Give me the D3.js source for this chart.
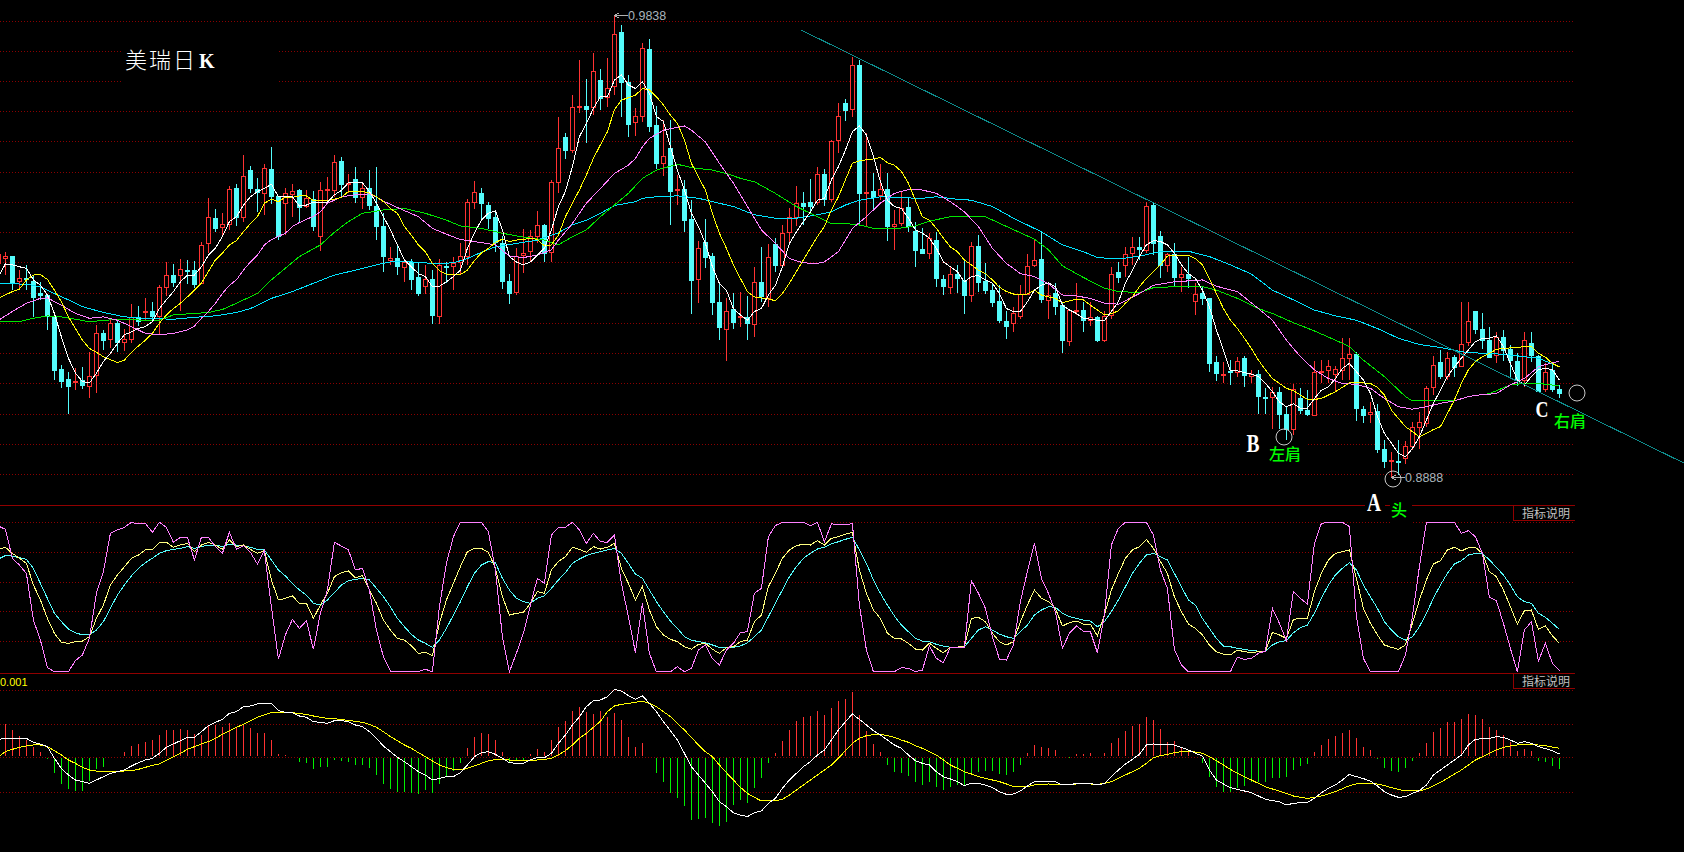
<!DOCTYPE html>
<html><head><meta charset="utf-8">
<script src="https://cdnjs.cloudflare.com/ajax/libs/d3/7.8.5/d3.min.js"></script>
<style>html,body{margin:0;padding:0;background:#000;overflow:hidden}svg{display:block}</style>
</head><body><div id="c"></div>
<script>
// Prices are in 1/10000 units (9838 = 0.9838). First entry sits just off the left edge.
const high=[9352,9352,9343,9314,9325,9304,9290,9263,9220,9119,
9105,9112,9114,9146,9201,9191,9211,9211,9194,9244,
9240,9256,9248,9283,9331,9326,9336,9335,9333,9371,
9462,9439,9431,9487,9491,9551,9528,9504,9532,9567,
9467,9484,9491,9482,9479,9476,9496,9506,9552,9546,
9512,9526,9493,9520,9526,9431,9361,9366,9335,9338,
9328,9325,9314,9338,9331,9342,9369,9460,9497,9484,
9454,9431,9384,9307,9360,9398,9397,9436,9410,9500,
9630,9596,9674,9747,9707,9760,9728,9750,9838,9819,
9716,9647,9782,9789,9652,9624,9624,9510,9500,9458,
9375,9419,9349,9287,9257,9268,9270,9261,9321,9361,
9367,9380,9407,9441,9487,9474,9501,9527,9522,9582,
9659,9666,9752,9747,9596,9513,9532,9513,9438,9476,
9462,9414,9400,9390,9393,9304,9321,9325,9335,9371,
9386,9329,9288,9283,9229,9239,9283,9347,9376,9395,
9287,9287,9249,9235,9287,9249,9249,9220,9229,9321,
9330,9362,9382,9382,9454,9453,9395,9349,9369,9321,
9342,9287,9280,9256,9137,9126,9129,9136,9137,9109,
9109,9071,9073,9074,9033,9079,9071,9067,9128,9130,
9129,9117,9175,9174,9146,9034,9043,9039,8964,8940,
8964,8962,9002,9023,9076,9137,9150,9146,9139,9248,
9248,9230,9225,9198,9186,9191,9160,9143,9187,9186,
9139,9122,9122,9077];
const low=[9325,9304,9273,9273,9273,9218,9253,9191,9089,9072,
9018,9067,9069,9052,9062,9150,9153,9146,9148,9165,
9199,9211,9208,9181,9261,9280,9229,9285,9277,9286,
9349,9393,9383,9397,9405,9414,9473,9434,9428,9450,
9377,9386,9424,9412,9441,9395,9354,9458,9465,9465,
9472,9453,9440,9438,9377,9311,9325,9304,9289,9273,
9261,9266,9203,9203,9287,9273,9304,9325,9440,9417,
9398,9352,9275,9244,9263,9309,9331,9369,9331,9331,
9472,9542,9555,9637,9576,9633,9644,9650,9674,9630,
9589,9590,9618,9599,9522,9508,9407,9448,9393,9224,
9247,9318,9222,9170,9128,9194,9198,9170,9177,9249,
9239,9311,9323,9369,9404,9406,9431,9448,9447,9455,
9556,9622,9630,9404,9405,9439,9458,9375,9356,9404,
9393,9321,9349,9338,9280,9262,9266,9268,9224,9249,
9270,9266,9238,9205,9172,9187,9213,9263,9321,9247,
9213,9222,9144,9159,9222,9187,9199,9167,9167,9213,
9287,9301,9325,9335,9349,9345,9297,9311,9281,9270,
9277,9222,9242,9105,9086,9081,9078,9095,9074,9081,
9019,9019,8988,8988,8964,8975,9019,9013,9013,9081,
9081,9064,9088,9088,9004,8999,9000,8937,8906,8888,
8893,8916,8944,8947,8992,9058,9091,9088,9095,9115,
9157,9183,9152,9135,9122,9128,9091,9076,9074,9126,
9064,9064,9064,9050];
const open=[9329,9340,9343,9292,9297,9292,9268,9263,9220,9111,
9090,9083,9088,9076,9099,9184,9172,9205,9167,9172,
9218,9228,9230,9220,9280,9305,9305,9314,9314,9287,
9369,9421,9402,9409,9484,9423,9520,9482,9473,9522,
9467,9452,9471,9479,9446,9460,9385,9479,9479,9538,
9491,9501,9465,9484,9446,9405,9335,9340,9321,9331,
9301,9282,9296,9220,9323,9323,9331,9343,9455,9472,
9449,9424,9369,9292,9270,9345,9354,9384,9407,9351,
9496,9588,9562,9649,9651,9649,9705,9670,9692,9804,
9701,9618,9632,9769,9613,9535,9565,9478,9482,9419,
9295,9373,9343,9248,9194,9234,9217,9218,9203,9289,
9257,9368,9325,9392,9423,9452,9454,9455,9511,9460,
9581,9659,9645,9736,9473,9476,9469,9482,9404,9412,
9443,9395,9357,9350,9377,9295,9280,9306,9294,9262,
9363,9292,9273,9251,9209,9206,9220,9265,9325,9337,
9253,9268,9242,9169,9232,9232,9211,9218,9170,9222,
9310,9325,9349,9362,9356,9448,9384,9325,9347,9301,
9306,9251,9268,9256,9125,9099,9106,9105,9134,9097,
9100,9053,9054,9063,9019,8988,9052,9026,9017,9104,
9109,9100,9109,9134,9141,9028,9019,9025,8946,8921,
8922,8927,8952,8992,8999,9074,9126,9097,9135,9117,
9167,9230,9193,9170,9139,9177,9151,9127,9087,9165,
9138,9070,9108,9069];
const close=[9347,9343,9290,9297,9295,9259,9263,9220,9109,9086,
9076,9086,9078,9097,9184,9170,9205,9167,9172,9218,
9210,9230,9220,9279,9305,9289,9316,9312,9285,9365,
9424,9401,9410,9482,9424,9508,9484,9474,9524,9467,
9384,9472,9476,9445,9462,9405,9480,9481,9536,9491,
9493,9465,9484,9448,9404,9343,9340,9323,9330,9296,
9268,9296,9222,9325,9321,9329,9343,9455,9474,9453,
9421,9371,9292,9268,9344,9349,9385,9406,9349,9495,
9565,9561,9650,9651,9646,9724,9668,9688,9801,9702,
9615,9631,9771,9611,9534,9549,9477,9482,9417,9294,
9359,9342,9249,9198,9231,9208,9220,9205,9289,9261,
9342,9325,9390,9423,9452,9447,9447,9511,9461,9579,
9632,9644,9736,9473,9475,9465,9482,9404,9410,9441,
9404,9356,9350,9380,9297,9282,9307,9297,9262,9363,
9290,9273,9249,9211,9200,9225,9265,9323,9334,9255,
9262,9240,9170,9232,9233,9211,9217,9170,9220,9307,
9299,9347,9361,9358,9447,9369,9325,9347,9301,9306,
9298,9266,9256,9124,9102,9101,9104,9128,9098,9101,
9055,9051,9063,9018,8987,9069,9026,9019,9104,9106,
9117,9111,9133,9141,9031,9016,9023,8947,8922,8923,
8920,8952,8992,9001,9071,9119,9096,9133,9114,9163,
9209,9193,9170,9136,9177,9150,9129,9087,9170,9139,
9066,9104,9070,9061];

const ma5=[9301,9327,9325,9321,9318,9294,9283,9263,9225,9177,9133,9102,9085,9082,9102,9126,9143,9163,9181,9187,9194,9198,9208,9235,9253,9270,9290,9304,9304,9321,9345,9359,9383,9414,9424,9448,9465,9476,9482,9491,9465,9465,9465,9446,9448,9454,9454,9454,9469,9478,9494,9494,9494,9476,9452,9424,9397,9366,9335,9321,9307,9301,9280,9281,9290,9301,9314,9359,9390,9417,9431,9436,9397,9342,9331,9325,9331,9345,9359,9397,9445,
9476,9527,9589,9616,9647,9671,9671,9705,9716,9695,9688,9702,9678,9630,9620,9568,9520,9479,9431,9404,9369,9321,9287,9273,9235,9222,9211,9229,9235,9263,9283,9321,9369,9393,9414,9434,9458,9462,9500,9527,9561,9599,9611,9592,9548,9496,9458,9445,9441,9421,9397,9390,9380,9359,9331,9321,9311,9290,9301,9303,9294,9287,9266,9235,9229,9229,9249,9273,9283,9288,9280,9242,9232,9225,9215,9213,9211,9210,9229,9249,
9287,9314,9342,9366,9375,9373,9366,9349,9325,9307,9297,9273,9239,9191,9150,9107,9107,9103,9100,9095,9081,9064,9043,9033,9039,9030,9030,9050,9067,9074,9091,9112,9122,9105,9088,9061,9013,8978,8958,8937,8930,8947,8971,9006,9040,9067,9095,9115,9133,9150,9167,9174,9174,9179,9157,9122,9088,9078,9095,9109,9112,9109,9088];
const ma10=[9256,9263,9270,9275,9294,9304,9305,9295,9273,9249,9218,9194,9170,9153,9145,9136,9130,9124,9129,9145,9158,9170,9184,9205,9222,9235,9246,9259,9273,9287,9311,9335,9349,9366,9375,9393,9410,9424,9452,9460,9455,9464,9464,9467,9467,9457,9458,9458,9460,9464,9476,9476,9476,9473,9465,9455,9441,9431,9404,9386,9366,9352,9328,9313,9306,9305,9305,9314,9334,9349,9359,9371,9378,9373,9376,9377,9380,9377,9364,9366,9386,
9424,9452,9479,9510,9544,9572,9599,9644,9664,9669,9674,9688,9685,9671,9654,9633,9616,9582,9534,9506,9479,9431,9390,9359,9325,9297,9270,9259,9257,9255,9251,9266,9287,9311,9335,9359,9383,9404,9438,9465,9500,9534,9539,9541,9543,9546,9535,9530,9517,9493,9458,9424,9417,9400,9380,9362,9352,9335,9325,9314,9307,9294,9279,9270,9265,9263,9265,9273,9263,9259,9256,9247,9251,9254,9253,9242,9232,9222,9225,9230,
9246,9259,9280,9297,9311,9325,9343,9345,9345,9345,9338,9325,9297,9266,9235,9211,9194,9174,9153,9129,9109,9091,9081,9071,9066,9057,9048,9048,9050,9057,9064,9073,9082,9082,9082,9081,9073,9057,9026,9009,8992,8982,8971,8978,8986,8992,9019,9047,9081,9109,9126,9136,9143,9151,9153,9154,9155,9157,9157,9143,9135,9122,9115];

const ma20Idx=[-1,1,3,5,6,8,10,12,14,16,18,20,22,24,26,27,28,29,30,31,32,33,34,35,36,37,38,40,41,42,44,45,46,47,48,50,52,53,54,56,59,61,63,65,67,70,72,74,76,78,79,81,83,85,87,89,90,91,92,94,97,98,100,102,104,106,108,110,112,114,116,117,119,120,121,123,125,127,129,131,133,135,137,139,141,143,145,147,149,151,153,155,157,159,162,164,167,171,173,176,179,181,183,185,187,189,191,193,195,197,199,201,203,205,207,209,211,213,215,217,219,221,222];
const ma20=[9211,9229,9246,9256,9257,9242,9225,9215,9218,9211,9198,9184,9181,9184,9191,9199,9215,9229,9246,9266,9283,9294,9314,9331,9345,9366,9377,9390,9404,9412,9425,9434,9452,9458,9465,9469,9471,9465,9456,9443,9424,9400,9388,9377,9373,9366,9343,9340,9345,9356,9376,9410,9452,9482,9513,9530,9544,9568,9585,9602,9611,9602,9578,9534,9493,9445,9397,9369,9338,9329,9328,9331,9352,9376,9400,9424,9452,9472,9480,9479,9472,9455,9434,9404,9359,9328,9307,9301,9286,9263,9261,9256,9246,9244,9266,9283,9290,9294,9281,9270,9235,9211,9170,9136,9109,9091,9081,9079,9071,9050,9033,9028,9033,9040,9045,9054,9058,9060,9078,9091,9115,9124,9126];
const ma60Idx=[-1,2,4,6,8,10,12,16,20,22,24,26,29,31,33,36,38,40,42,45,47,49,51,54,57,60,63,65,68,71,74,77,79,81,83,85,87,89,91,93,96,98,101,103,105,107,110,113,116,118,120,122,124,127,130,132,135,138,140,143,147,149,151,154,157,159,162,164,167,171,173,176,179,181,184,187,190,192,194,197,200,201,207,209,212,215,217,219,222];
const ma60=[9208,9208,9215,9220,9218,9213,9208,9213,9211,9211,9222,9224,9227,9233,9246,9266,9294,9318,9342,9366,9392,9414,9431,9438,9441,9431,9417,9405,9400,9390,9382,9376,9366,9383,9397,9424,9448,9472,9503,9520,9532,9525,9520,9513,9503,9496,9472,9445,9424,9410,9410,9407,9400,9399,9405,9415,9424,9425,9424,9404,9378,9356,9323,9299,9277,9270,9268,9278,9280,9280,9273,9256,9235,9225,9206,9189,9170,9157,9129,9095,9054,9045,9045,9054,9060,9078,9081,9081,9076];
const ma120Idx=[-1,3,5,7,9,11,14,17,20,24,27,30,33,35,38,41,44,47,50,53,55,58,61,64,66,68,70,73,76,79,81,83,85,87,90,91,93,96,99,101,104,107,110,113,116,118,120,122,125,128,131,133,136,138,141,144,148,151,154,156,159,162,165,169,172,175,178,181,184,187,190,193,196,199,202,205,208,211,214,217,219,222];
const ma120=[9287,9285,9280,9266,9253,9239,9227,9218,9215,9213,9217,9220,9227,9235,9256,9270,9287,9304,9314,9325,9331,9331,9328,9329,9338,9351,9362,9369,9376,9391,9407,9417,9431,9447,9455,9462,9465,9467,9462,9455,9445,9428,9421,9421,9428,9434,9448,9458,9465,9463,9462,9465,9460,9458,9445,9421,9393,9366,9352,9340,9337,9343,9352,9353,9342,9325,9306,9273,9253,9232,9220,9211,9194,9174,9161,9155,9146,9143,9141,9136,9133,9115];

const trendIdx=[113.7,239.8];
const trendVal=[9808,8917];

const kdjJ=[97.5,95.3,75.9,71.4,65.8,34.6,21.2,2.7,0,0,0,7.4,11.2,22.3,52.5,67,92.6,94.9,96.6,100,98.9,99.3,93.3,100,96.6,86.6,90,90,74.8,90,90,83.7,79.2,93.3,81.9,84.4,79.9,72.1,81,43.5,8.3,24.6,35,29,34.1,15,39.1,54.7,86.6,84.1,81.5,68.1,69.2,54.7,27.9,10,0.4,0,0,0,0,1.6,0,43.5,72.5,90.4,100,100,100,100,93.7,68.1,23.4,0,12.3,25.7,44.6,62.5,59.1,91.5,96.6,96.6,100,94.9,85.9,92.6,87,
86.6,91.5,59.1,36.8,12.7,45.8,12.3,0,0,0,3.3,0,2.2,14.5,17.9,8.9,4.5,14.5,19,26.1,26.8,52.5,55.8,90.4,97.8,100,100,100,100,97.8,100,87,98.9,98.7,98.2,99.3,44.6,14.5,0,0,0,0,2.7,2.2,0,1.1,17.2,8.9,6,16.3,16.3,16.3,60.9,52.5,42.4,23.4,8.5,7.8,17.9,46.9,67,85.9,62.5,52.5,40.2,15.6,25.7,30.6,27.2,26.8,12.7,37.9,84.8,96,100,100,100,100,91.5,68.1,55.8,15,4.5,0,0,0,0,0,0,0,9.6,8.3,8.9,12.3,13.8,42.4,32.4,20.8,53.6,49.1,45.3,85.9,99.3,100,100,100,97.1,36.8,8.9,0,0,0,0,0,11.2,36.8,70.3,100,100,100,100,100,92.6,94.4,90.4,79.2,49.8,47.5,32.4,15.6,0,27.9,33.5,7.1,19,5.6,0.7];
const kdjK=[81.9,83.3,79.2,75.9,72.5,58,48,35.7,25.7,19.6,19,20.1,20.5,23.4,35.7,44.6,58,64.7,70.3,75.9,78.1,81.5,81.5,86.6,86.6,83.3,84.8,85.9,80.4,84.8,86.6,84.8,81.9,88.2,83.7,84.8,81.9,79.2,81,61.4,48,49.1,50.7,45.8,45.8,35.7,44.6,52.5,63.6,66.3,67.4,62.9,64.3,54.7,45.8,34.6,27.9,22.3,21.2,17.4,12.3,12.9,10.7,32.4,48,59.1,70.3,80.4,82.6,82.6,79.9,69.2,50.2,37.9,39.1,39.7,45.8,53.6,52.5,68.1,73.7,77,83.3,81.9,79.9,83.7,82.1,
83.3,85.9,69.2,59.1,48,56.9,41.3,30.1,24.6,21.7,20.1,16.7,15,18.3,19,15,12.3,16.1,16.7,20.1,21.2,33.5,37.9,56.9,65.8,75.9,81.5,84.4,85.3,84.8,87.7,84.8,89.3,90.4,92,93.3,68.1,52.5,41.3,35.7,25.7,22.3,21.9,19,15.2,14.5,19,15.6,12.7,16.3,16.5,16.7,35.7,36.4,33.5,25.7,20.1,17.9,20.1,33.5,44.6,54.7,49.1,46.9,42.4,30.6,32.8,33.9,31.9,31.9,24.1,37.9,54.7,65.8,75.9,81.5,83.7,88.6,82.6,
73.7,65.8,50.2,40.2,31.9,29,24.6,17.9,13.4,11.8,11.2,14.5,13.4,12.7,13.4,13.8,26.3,24.6,22.3,35,35.7,35.7,53.6,65.8,74.8,79.2,80.4,81.5,62.5,42.4,32.4,24.6,17.9,16.3,15,17.9,32.4,48,61.4,72.1,74.3,81.5,83.3,80.8,83,83.3,79.2,67,63.6,54.7,43.5,31.7,40.8,41.3,28.3,30.6,24.1,19];
const kdjD=[75.4,77.7,77.4,76.3,75.2,69.2,59.1,49.1,39.1,33.5,28.6,26.1,24.6,24.6,27.9,33.5,42.4,51.3,58,64.1,69.2,73,75.9,79.2,81,81.9,82.6,83.7,82.6,83.7,84.8,84.8,83.7,85.3,84.8,84.4,83.3,81.9,81.5,74.8,68.1,64.1,59.1,54.7,51.3,45.8,44.6,48,52.9,58,60.9,61.8,62.5,61.4,55.8,50.2,43.5,35.7,30.1,25,21.2,19,16.3,21.2,29,37.9,46.9,56.9,65.8,71.4,73.7,73,62.5,54.7,49.1,46.9,45.8,49.1,50.7,55.8,61.4,66.3,72.5,75.4,77.7,79.2,80.4,
81.5,82.4,79.2,72.5,65.4,62.5,54.7,46.9,40.2,33.9,29,23.4,21.2,20.1,19.4,17.9,16.3,16.1,16.3,17.2,19.4,23.4,27.9,36.8,45.8,54.7,63.6,70.3,75.9,79.2,82.1,83.3,85.5,87,88.6,90,81.5,72.5,61.4,52.5,44.6,37.3,31.2,26.8,22.3,20.5,20.1,18.3,17.2,16.3,16.5,16.7,22.3,27.9,30.1,27.9,25.2,23.4,22.3,26.8,31.2,37.9,41.3,43.5,43.1,39.1,36.8,35.7,34.6,33.9,30.1,33.5,40.2,48,56.9,65.8,72.5,78.1,79.2,77,74.8,65.8,56.9,48,44.6,35.7,29,22.3,17.2,16.7,15.6,15,14.1,13.8,13.8,17.9,20.1,20.8,26.1,29.5,31.2,39.1,49.1,58,64.7,69.2,73,68.1,58,50.2,42.4,33.5,27.9,23.4,21.2,23.4,30.1,39.1,49.1,58,65.8,72.1,74.3,78.1,79.2,79.2,74.8,69.9,64.7,58,50.2,46.9,45.8,39.1,36.4,32.4,28.3];

// MACD panel, in millionths (1000 = the 0.001 printed at the panel's top left)
const macdDif=[260,275,275,275,275,215,190,150,-25,-175,-275,-350,-375,-400,-350,-300,-250,-225,-200,-140,-90,-50,-25,50,140,190,240,290,290,375,465,515,560,650,675,750,760,790,800,800,690,665,660,610,590,525,515,500,540,540,525,475,450,375,275,160,75,-10,-75,-150,-225,-275,-350,-325,-300,-300,-240,-125,0,60,75,35,-25,-90,-100,-100,-50,-15,-15,50,200,325,475,600,750,840,850,
900,1010,985,915,860,915,800,675,525,390,250,50,-150,-275,-400,-525,-675,-750,-840,-875,-900,-840,-815,-700,-625,-475,-350,-250,-150,-75,25,100,250,400,525,640,560,475,390,325,250,175,125,25,-60,-100,-125,-225,-300,-335,-375,-435,-400,-400,-425,-465,-525,-565,-560,-515,-440,-375,-375,-375,-375,-425,-425,-400,-400,-400,-425,-400,-300,-200,-110,-40,35,175,190,185,180,175,140,100,50,10,-200,-350,-410,-465,-490,-515,-540,-590,-640,-660,-675,-725,-700,-690,-685,-625,-540,-475,-425,-350,-265,-300,-330,-365,-440,-525,-575,-610,-600,-550,-510,-425,-275,-200,-125,-50,25,175,260,270,275,300,290,250,200,225,200,150,120,90,40];
const macdDea=[0,75,110,140,160,175,175,150,90,25,-50,-100,-160,-200,-215,-225,-225,-225,-215,-210,-190,-160,-130,-110,-55,0,50,110,150,190,225,275,335,390,440,485,540,590,625,660,665,665,660,645,635,610,590,575,570,555,545,530,515,485,440,375,300,240,175,125,60,0,-65,-125,-165,-190,-200,-175,-140,-100,-65,-40,-35,-50,-60,-65,-65,-50,-40,-25,25,90,175,275,350,440,530,
675,760,785,800,815,835,800,750,675,600,500,400,290,175,75,0,-125,-240,-350,-460,-550,-610,-665,-665,-660,-640,-575,-500,-425,-350,-275,-200,-125,-25,90,200,275,315,330,335,315,290,250,215,165,125,75,25,-50,-125,-175,-225,-260,-300,-325,-350,-375,-410,-450,-450,-450,-425,-415,-410,-415,-425,-420,-410,-410,-410,-415,-400,-375,-325,-275,-225,-175,-100,-15,15,35,60,75,85,70,50,0,-60,-125,-190,-250,-300,-350,-400,-450,-485,-515,-550,-590,-610,-625,-610,-590,-560,-525,-480,-435,-410,-400,-405,-410,-435,-465,-490,-515,-515,-515,-485,-440,-385,-325,-260,-200,-125,-50,0,50,100,140,160,175,180,185,175,165,145,125];
const macdHist=[0,485,400,315,250,150,75,-40,-250,-410,-490,-510,-510,-365,-190,-150,-25,15,75,160,190,225,250,325,400,400,415,400,335,325,475,475,450,500,450,475,435,360,350,250,35,20,-15,-75,-100,-190,-150,-150,-50,-60,-75,-125,-125,-175,-275,-410,-485,-525,-525,-540,-560,-500,-540,-410,-290,-210,-100,135,290,350,335,250,75,-100,-60,-50,40,115,65,250,440,535,685,740,675,640,685,
600,650,550,290,150,210,-15,-250,-375,-540,-625,-740,-950,-940,-925,-990,-1035,-975,-725,-650,-700,-465,-325,-90,50,240,400,535,600,610,685,625,725,835,860,975,625,385,190,75,-125,-225,-250,-285,-375,-425,-375,-450,-500,-450,-425,-440,-250,-225,-215,-215,-260,-275,-225,-125,50,175,140,125,100,-15,-10,35,35,50,-15,50,210,285,390,465,490,590,550,415,215,235,135,75,-15,-100,-300,-450,-525,-525,-465,-440,-385,-375,-375,-315,-315,-310,-200,-140,-110,75,175,265,310,360,400,275,150,100,-40,-165,-210,-225,-165,-60,60,210,370,435,525,525,565,640,625,565,450,400,325,215,90,115,85,-60,-75,-135,-180];

const priceGrid=[9826,9764,9702,9640,9578,9516,9453,9391,9329,9267,9205,9143,9081,9018,8956,8894];
const kdjGrid=[100,80,60,40,20];
const macdGrid=[995,485,-20,-540];
const panelSolid=[111.3,-0.9];
const peakLabels=["0.9838","0.8888"];
const titleText="美瑞日K";
const noteButton="指标说明";
const macdUnit="0.001";
const letters=["A","B","C"];
const shoulders=["左肩","右肩","头"];

const W=1684,H=852,RIGHT=1575;
const svg=d3.select("#c").append("svg").attr("width",W).attr("height",H).style("background","#000");
const x=d3.scaleLinear().domain([0,222]).range([5.4,1559.4]);
const y=d3.scaleLinear().domain([8888,9838]).range([477.2,15.55]);
const yK=d3.scaleLinear().domain([0,100]).range([671.7,522.3]);
const yM=d3.scaleLinear().domain([-1000,1000]).range([823.33,690]);
const px=v=>Math.floor(v)+.5;
const RED="#FF3232",CY="#54FCFC";
const gridC="#8a0000";
function grid(vals,sc){svg.append("g").selectAll("line").data(vals).join("line")
 .attr("x1",0).attr("x2",RIGHT).attr("y1",d=>px(sc(d))).attr("y2",d=>px(sc(d)))
 .attr("stroke",gridC).attr("stroke-dasharray","1 2").attr("shape-rendering","crispEdges");}
grid(priceGrid,y);grid(kdjGrid,yK);grid(macdGrid,yM);
svg.append("g").selectAll("line").data(panelSolid).join("line")
 .attr("x1",0).attr("x2",RIGHT).attr("y1",d=>px(yK(d))).attr("y2",d=>px(yK(d)))
 .attr("stroke","#900000").attr("shape-rendering","crispEdges");
// opaque backgrounds of the hand-placed notes: they interrupt the grid
[[123,44,155,42],[1365,495,20,18],[1390,500,22,26],[1242,436,66,26],[1534,400,42,30]].forEach(r=>
 svg.append("rect").attr("x",r[0]).attr("y",r[1]).attr("width",r[2]).attr("height",r[3]).attr("fill","#000"));

// candles
const idx=d3.range(high.length);
const gc=svg.append("g").attr("shape-rendering","crispEdges");
idx.forEach(p=>{
 const i=p-1,up=close[p]>=open[p],c=up?RED:CY,cx=px(x(i));
 const t=Math.round(y(Math.max(open[p],close[p]))),b=Math.round(y(Math.min(open[p],close[p])));
 gc.append("line").attr("x1",cx).attr("x2",cx).attr("y1",y(high[p])).attr("y2",y(low[p])).attr("stroke",c);
 if(up) gc.append("rect").attr("x",cx-2).attr("y",t+.5).attr("width",4).attr("height",Math.max(b-t,1)).attr("fill","#000").attr("stroke",c);
 else gc.append("rect").attr("x",cx-2.5).attr("y",t).attr("width",5).attr("height",Math.max(b-t,1)+1).attr("fill",c);
});

function polyline(xs,ys,sc,col,w){
 svg.append("path").datum(xs.map((v,k)=>[v,ys[k]])).attr("fill","none").attr("stroke",col).attr("stroke-width",w||1)
  .attr("shape-rendering","crispEdges")
  .attr("d",d3.line().x(d=>x(d[0])).y(d=>sc(d[1])));
}
const seq=a=>a.map((_,k)=>k-1);
polyline(ma120Idx,ma120,y,"#00E4FF");
polyline(ma60Idx,ma60,y,"#00E600");
polyline(ma20Idx,ma20,y,"#FF80FF");
polyline(seq(ma10),ma10,y,"#FFFF00");
polyline(seq(ma5),ma5,y,"#FFFFFF");
polyline(trendIdx,trendVal,y,"#0E8C8C");

// KDJ
polyline(seq(kdjD),kdjD,yK,CY);
polyline(seq(kdjK),kdjK,yK,"#FFFF80");
polyline(seq(kdjJ),kdjJ,yK,"#FF80FF");

// MACD histogram and lines
svg.append("g").attr("shape-rendering","crispEdges").selectAll("line").data(macdHist.map((v,p)=>[p-1,v]).filter(d=>d[1]!==0)).join("line")
 .attr("x1",d=>px(x(d[0]))).attr("x2",d=>px(x(d[0])))
 .attr("y1",d=>yM(0)+(d[1]>0?-1:1)).attr("y2",d=>yM(d[1]))
 .attr("stroke",d=>d[1]>0?RED:"#00F000");
polyline(seq(macdDea),macdDea,yM,"#FFFF00");
polyline(seq(macdDif),macdDif,yM,"#FFFFFF");

// annotations
const sans='"Liberation Sans",Arial,sans-serif',serif='"Liberation Serif",serif',cjk='"Noto Sans CJK SC",sans-serif';
function label(t,X,Y,o){const e=svg.append("text").text(t).attr("fill",o.c).attr("font-size",o.s)
 .attr("font-family",o.f).attr("font-weight",o.w||"normal").attr("text-anchor",o.a||"start");
 e.attr("transform",`translate(${X},${Y}) scale(${o.sx||1},1)`);return e;}
function arrowLabel(t,i,v,tx){const X=px(x(i)),Y=px(y(v));
 svg.append("path").attr("d",`M${X+4},${Y-2.5}L${X},${Y}L${X+4},${Y+2.5}M${X},${Y}H${tx}`).attr("fill","none").attr("stroke","#b0b0b0").attr("shape-rendering","crispEdges");
 label(t,tx,Y+4.5,{c:"#a8b4bc",s:12.5,f:sans});}
arrowLabel(peakLabels[0],87,9838,628);
arrowLabel(peakLabels[1],198,8888,1405);
const ttl=svg.append("text").attr("x",125).attr("y",68).attr("fill","#fff").attr("font-size",22);
ttl.append("tspan").text(titleText.slice(0,-1)).attr("font-family",cjk).attr("font-weight",300).attr("letter-spacing",2);
ttl.append("tspan").text(titleText.slice(-1)).attr("font-family",serif).attr("font-weight","bold").attr("font-size",20).attr("dx",2);
[[1284,437],[1393,479],[1577,393]].forEach(c=>svg.append("circle").attr("cx",c[0]).attr("cy",c[1]).attr("r",8).attr("fill","none").attr("stroke","#c8c8c8"));
label(letters[0],1374,511,{c:"#fff",s:25,f:serif,w:"bold",a:"middle",sx:.78});
label(letters[1],1253,452,{c:"#fff",s:25,f:serif,w:"bold",a:"middle",sx:.78});
label(letters[2],1542,416.5,{c:"#fff",s:23,f:serif,w:"bold",a:"middle",sx:.78});
label(shoulders[0],1285,460,{c:"#00FF00",s:16,f:cjk,w:500,a:"middle"});
label(shoulders[1],1570,427,{c:"#00FF00",s:16,f:cjk,w:500,a:"middle"});
label(shoulders[2],1399,516,{c:"#00FF00",s:16,f:cjk,w:500,a:"middle"});
[505.3,673].forEach(t=>{
 svg.append("path").attr("d",`M${px(1513.4)},${px(t)}V${px(t+15.4)}H${RIGHT}`).attr("fill","none").attr("stroke","#900000").attr("shape-rendering","crispEdges");
 label(noteButton,1522,t+12.5,{c:"#c0c0c0",s:12,f:cjk});
});
label(macdUnit,0,686,{c:"#FFFF00",s:11,f:sans});
</script></body></html>
